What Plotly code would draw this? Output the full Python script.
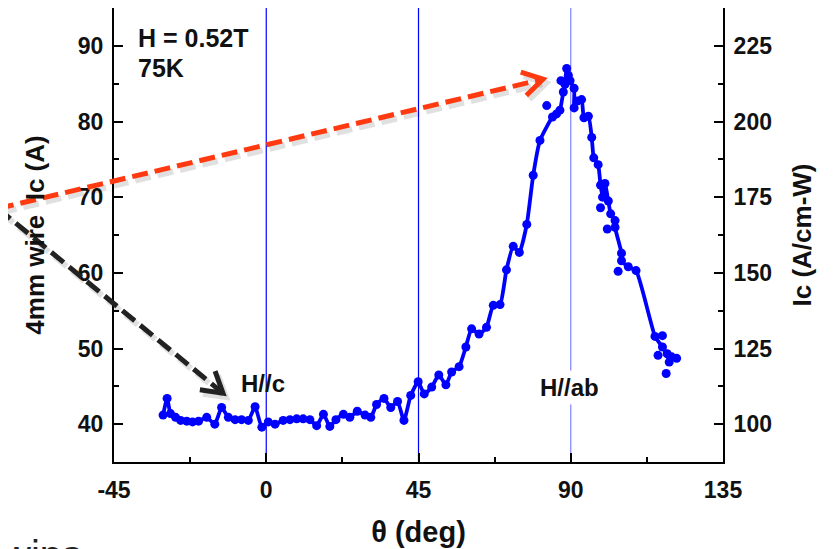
import plotly.graph_objects as go

# ---------------- data ----------------
theta = [-30.5, -29.3, -28.3, -26.8, -25.3, -23.5, -21.8, -20.0, -17.6, -15.2,
         -13.2, -11.2, -9.2, -7.3, -5.3, -3.3, -1.3, 0.6, 2.6, 5.0,
         7.0, 9.0, 10.9, 12.9, 14.9, 16.9, 18.8, 20.6, 22.8, 24.7,
         26.9, 29.2, 30.9, 32.6, 34.8, 36.8, 38.8, 40.7, 42.7, 44.9,
         46.7, 48.9, 51.0, 53.1, 54.8, 57.0, 59.0, 60.7, 62.9, 65.1,
         67.1, 69.1, 71.0, 73.0, 74.8, 77.0, 78.9, 80.9, 82.9, 84.6,
         85.8, 86.8, 87.1, 87.8, 88.3, 88.8, 89.3, 89.8, 91.0, 91.0,
         91.9, 93.2, 93.9, 95.2, 96.2, 96.8, 98.1, 98.8, 99.4, 100.1,
         98.8, 101.1, 101.8, 100.8, 103.1, 103.1, 105.0, 105.0, 104.0, 107.0,
         109.3, 114.9, 117.1, 115.8, 117.1, 118.5, 119.1, 119.8, 121.3, 118.2]
ic = [41.2, 43.4, 41.4, 40.9, 40.5, 40.4, 40.3, 40.4, 40.9, 40.0,
      42.2, 40.9, 40.6, 40.6, 40.5, 42.3, 39.6, 40.3, 40.0, 40.5,
      40.6, 40.7, 40.7, 40.6, 39.8, 41.3, 39.7, 40.6, 41.3, 40.9,
      41.7, 41.2, 40.9, 42.6, 43.4, 42.2, 43.0, 40.5, 43.8, 45.6,
      44.0, 44.9, 46.5, 45.2, 46.9, 47.6, 50.2, 52.6, 51.9, 52.8,
      55.7, 55.8, 60.4, 63.5, 62.7, 66.4, 72.9, 77.5, 82.1, 80.6,
      81.0, 81.5, 85.4, 83.9, 84.9, 87.0, 86.1, 85.4, 84.4, 81.8,
      82.7, 82.9, 80.5, 80.7, 77.9, 75.2, 74.3, 71.6, 70.0, 71.8,
      68.6, 69.5, 67.8, 65.8, 66.9, 66.0, 62.6, 61.6, 60.2, 60.8,
      60.3, 51.6, 51.7, 49.1, 50.2, 49.3, 48.2, 48.9, 48.7, 46.7]

# guide curve through the measured points (scattered outliers left off the curve)
curve_theta = [-30.5, -29.3, -28.3, -26.8, -25.3, -23.5, -21.8, -20.0, -17.6, -15.2,
               -13.2, -11.2, -9.2, -7.3, -5.3, -3.3, -1.3, 0.6, 2.6, 5.0,
               7.0, 9.0, 10.9, 12.9, 14.9, 16.9, 18.8, 20.6, 22.8, 24.7,
               26.9, 29.2, 30.9, 32.6, 34.8, 36.8, 38.8, 40.7, 42.7, 44.9,
               46.7, 48.9, 51.0, 53.1, 54.8, 57.0, 59.0, 60.7, 62.9, 65.1,
               67.1, 69.1, 71.0, 73.0, 74.8, 77.0, 78.9, 80.9, 84.6,
               85.8, 86.8, 87.8, 88.3, 88.8, 89.3, 89.8, 91.0, 91.0,
               91.9, 93.2, 93.9, 95.2, 96.2, 96.8, 98.1, 98.8, 99.4, 100.1,
               101.1, 101.8, 103.1, 103.1, 105.0, 105.0, 107.0,
               109.3, 114.9, 117.1, 118.5, 119.1, 119.8, 121.3]
curve_ic = [41.2, 43.4, 41.4, 40.9, 40.5, 40.4, 40.3, 40.4, 40.9, 40.0,
            42.2, 40.9, 40.6, 40.6, 40.5, 42.3, 39.6, 40.3, 40.0, 40.5,
            40.6, 40.7, 40.7, 40.6, 39.8, 41.3, 39.7, 40.6, 41.3, 40.9,
            41.7, 41.2, 40.9, 42.6, 43.4, 42.2, 43.0, 40.5, 43.8, 45.6,
            44.0, 44.9, 46.5, 45.2, 46.9, 47.6, 50.2, 52.6, 51.9, 52.8,
            55.7, 55.8, 60.4, 63.5, 62.7, 66.4, 72.9, 77.5, 80.6,
            81.0, 81.5, 83.9, 84.9, 87.0, 86.1, 85.4, 84.4, 81.8,
            82.7, 82.9, 80.5, 80.7, 77.9, 75.2, 74.3, 71.6, 70.0, 71.8,
            69.5, 67.8, 66.9, 66.0, 62.6, 61.6, 60.8,
            60.3, 51.6, 50.2, 49.3, 48.2, 48.9, 48.7]

x_ticks = [-45, 0, 45, 90, 135]
x_tick_labels = ["-45", "0", "45", "90", "135"]
y_left_ticks = [40, 50, 60, 70, 80, 90]
y_right_ticks = [100, 125, 150, 175, 200, 225]
x_range = [-45, 135]
y_range = [35, 95]
y2_range = [87.5, 237.5]        # Ic (A/cm-W) = 2.5 * Ic (A)
ref_lines = [0, 45, 90]
ref_colors = ["#0000ff", "#0000ff", "#8080ff"]

# annotation arrows (data units): start -> tip
red_arrow = [(-79.3, 68.5), (81.8, 85.6)]
black_arrow = [(-79.3, 68.5), (-12.8, 44.1)]

# ---------------- layout geometry ----------------
# the page body adds an 8 px offset, so the figure is drawn 8 px smaller
W, H = 831, 541
ML, MR, MT, MB = 106, 116, 0, 87
PW, PH = W - ML - MR, H - MT - MB
FONT = "Arial, Liberation Sans, sans-serif"


def to_dom(x, y):
    return ((x - x_range[0]) / (x_range[1] - x_range[0]),
            (y - y_range[0]) / (y_range[1] - y_range[0]))


def bfont(size):
    return dict(family=FONT, size=size, color="#111", weight="bold")


fig = go.Figure()

fig.add_trace(go.Scatter(x=curve_theta, y=curve_ic, mode="lines",
                         line=dict(color="#0000ff", width=3.8, shape="spline", smoothing=0.5),
                         hoverinfo="skip", showlegend=False))
fig.add_trace(go.Scatter(x=theta, y=ic, mode="markers",
                         marker=dict(color="#0000ff", size=9),
                         showlegend=False))
# invisible trace to activate right axis
fig.add_trace(go.Scatter(x=[theta[0]], y=[ic[0] * 2.5], yaxis="y2", mode="markers",
                         marker=dict(opacity=0), hoverinfo="skip", showlegend=False))

shapes = []
for xv, col in zip(ref_lines, ref_colors):
    shapes.append(dict(type="line", xref="x", yref="y domain", x0=xv, x1=xv, y0=0, y1=1,
                       line=dict(color=col, width=1.2), layer="below"))


def arrow_shapes(arrow, color):
    (xs, ys), (xt, yt) = arrow
    sx, sy = to_dom(xs, ys)
    tx, ty = to_dom(xt, yt)
    dxp, dyp = (tx - sx) * PW, (ty - sy) * PH
    L = (dxp ** 2 + dyp ** 2) ** 0.5
    ux, uy = dxp / L, dyp / L
    nx, ny = -uy, ux
    back, half = 20.0, 12.0
    bx, by = tx * PW - back * ux, ty * PH - back * uy
    a1 = ((bx + half * nx) / PW, (by + half * ny) / PH)
    a2 = ((bx - half * nx) / PW, (by - half * ny) / PH)
    ex, ey = (tx * PW - 4 * ux) / PW, (ty * PH - 4 * uy) / PH
    out = []
    off = (3 / PW, -4 / PH)
    out.append(dict(type="line", xref="x domain", yref="y domain",
                    x0=sx + off[0], y0=sy + off[1], x1=ex + off[0], y1=ey + off[1],
                    line=dict(color="rgba(0,0,0,0.12)", width=6, dash="16px,7px")))
    out.append(dict(type="path", xref="x domain", yref="y domain",
                    path=f"M{a1[0]+off[0]},{a1[1]+off[1]} L{tx+off[0]},{ty+off[1]} L{a2[0]+off[0]},{a2[1]+off[1]}",
                    line=dict(color="rgba(0,0,0,0.12)", width=6)))
    out.append(dict(type="line", xref="x domain", yref="y domain",
                    x0=sx, y0=sy, x1=ex, y1=ey,
                    line=dict(color=color, width=5, dash="16px,7px")))
    out.append(dict(type="path", xref="x domain", yref="y domain",
                    path=f"M{a1[0]},{a1[1]} L{tx},{ty} L{a2[0]},{a2[1]}",
                    line=dict(color=color, width=5)))
    return out


shapes += arrow_shapes(black_arrow, "#222222")
shapes += arrow_shapes(red_arrow, "#ff3a10")

annotations = [
    dict(x=-38.4, y=91.0, xref="x", yref="y", text="<b>H = 0.52T</b>", showarrow=False,
         xanchor="left", yanchor="middle", font=bfont(25)),
    dict(x=-38.4, y=87.1, xref="x", yref="y", text="<b>75K</b>", showarrow=False,
         xanchor="left", yanchor="middle", font=bfont(25)),
    dict(x=-1.0, y=45.4, xref="x", yref="y", text="<b>H//c</b>", showarrow=False,
         xanchor="center", yanchor="middle", font=bfont(24)),
    dict(x=89.5, y=44.9, xref="x", yref="y", text="<b>H//ab</b>", showarrow=False,
         xanchor="center", yanchor="middle", bgcolor="white", borderpad=3,
         font=bfont(24)),
    dict(x=-134 / PW, y=-0.153, xref="paper", yref="paper", text="swips",
         showarrow=False, xanchor="left", yanchor="top",
         font=dict(family=FONT, size=40, color="#222")),
]

axis_common = dict(showline=True, linecolor="black", linewidth=2, ticks="inside",
                   ticklen=9, tickwidth=2, tickcolor="black", showgrid=False, zeroline=False,
                   tickfont=bfont(23))

fig.update_layout(
    width=W, height=H,
    margin=dict(l=ML, r=MR, t=MT, b=MB, autoexpand=False),
    paper_bgcolor="white", plot_bgcolor="white",
    showlegend=False,
    shapes=shapes,
    annotations=annotations,
    xaxis=dict(range=x_range, tickvals=x_ticks, ticktext=x_tick_labels, mirror=True,
               minor=dict(dtick=22.5, ticks="inside", ticklen=5, tickwidth=2, tickcolor="black"),
               title=dict(text="<b>θ (deg)</b>", font=bfont(29), standoff=20),
               ticklabelstandoff=6, **axis_common),
    yaxis=dict(range=y_range, tickvals=y_left_ticks,
               minor=dict(dtick=5, ticks="inside", ticklen=5, tickwidth=2, tickcolor="black"),
               title=dict(text="<b>4mm wire  Ic (A)</b>", font=bfont(26), standoff=26),
               ticklabelstandoff=4, **axis_common),
    yaxis2=dict(range=y2_range, tickvals=y_right_ticks, overlaying="y", side="right",
                minor=dict(dtick=12.5, ticks="inside", ticklen=5, tickwidth=2, tickcolor="black"),
                title=dict(text="<b>Ic (A/cm-W)</b>", font=bfont(26), standoff=22),
                ticklabelstandoff=4, **axis_common),
)

fig.write_html("out.html")
